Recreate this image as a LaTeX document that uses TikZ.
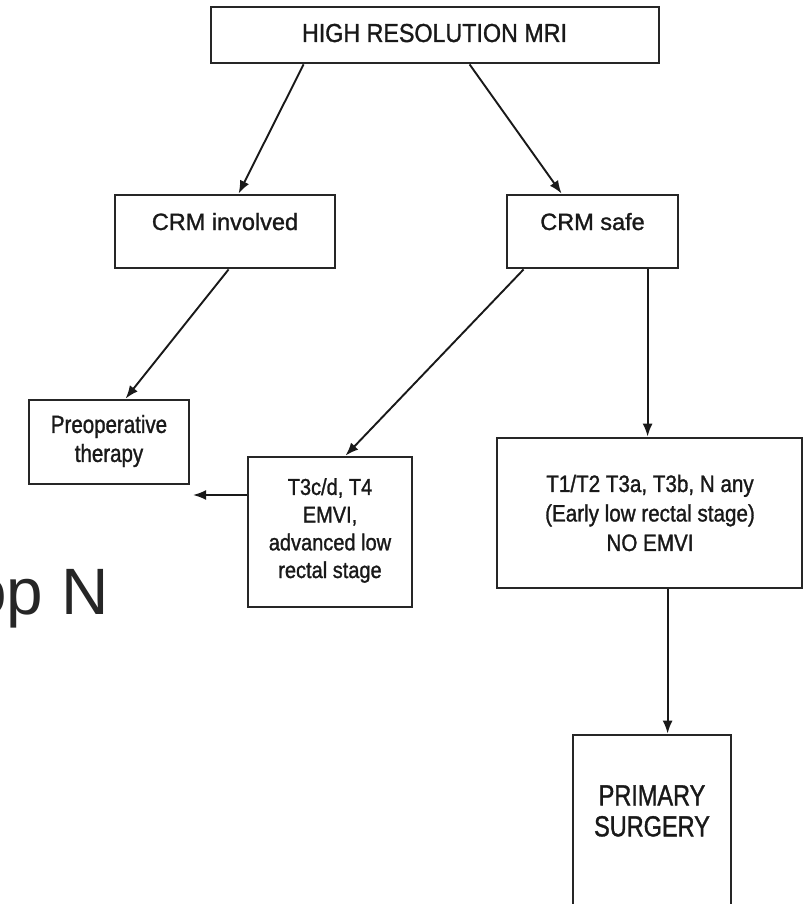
\documentclass[tikz,border=0pt]{standalone}
\usepackage{fontspec}
\setmainfont{Liberation Sans}
\newfontfamily\fN[FakeBold=1.2]{Liberation Sans}
\newfontfamily\fA[FakeStretch=0.895,FakeBold=1.2]{Liberation Sans}
\newfontfamily\fB[FakeStretch=0.87,FakeBold=1.2]{Liberation Sans}
\newfontfamily\fC[FakeStretch=0.83,FakeBold=1.2]{Liberation Sans}
\newfontfamily\fD[FakeStretch=0.81,FakeBold=1.2]{Liberation Sans}
\usetikzlibrary{arrows.meta}
\begin{document}
\begin{tikzpicture}[x=1pt,y=-1pt,
  box/.style={draw=black!85, line width=2.8pt, inner sep=0pt},
  conn/.style={draw=black!90, line width=1.9pt, -{Latex[length=13pt,width=10pt]}},
  lbl/.style={inner sep=0pt, align=center, text=black!90}]
\useasboundingbox (0,0) rectangle (803,904);
\clip (0,0) rectangle (803,904);
\fill[white] (0,0) rectangle (803,904);

% boxes
\node[box, minimum width=448pt, minimum height=56pt] (mri) at (435,35) {};
\node[box, minimum width=220pt, minimum height=73pt] (crmi) at (225,231.5) {};
\node[box, minimum width=171pt, minimum height=73pt] (crms) at (592.5,231.5) {};
\node[box, minimum width=160pt, minimum height=84pt] (preop) at (109,442) {};
\node[box, minimum width=164pt, minimum height=150pt] (t3c) at (330,532) {};
\node[box, minimum width=305pt, minimum height=150pt] (t12) at (649.5,513) {};
\node[box, minimum width=158pt, minimum height=265pt] (prim) at (652,867.5) {};

% texts
\node[lbl, font=\fA\fontsize{26}{31}\selectfont, anchor=base] (mriT) at (434.5,42) {HIGH RESOLUTION MRI};
\node[lbl, font=\fN\fontsize{23.5}{28}\selectfont, anchor=base] (crmiT) at (225,230) {CRM involved};
\node[lbl, font=\fN\fontsize{23.5}{28}\selectfont, anchor=base] (crmsT) at (592.5,230) {CRM safe};
\node[lbl, font=\fC\fontsize{24.7}{29}\selectfont] (preopT) at (109,441) {Preoperative\\therapy};
\node[lbl, font=\fB\fontsize{23}{27.7}\selectfont] (t3cT) at (330,530.5) {T3c/d, T4\\EMVI,\\advanced low\\rectal stage};
\node[lbl, font=\fB\fontsize{23.7}{29.5}\selectfont] (t12T) at (650,513) {T1/T2 T3a, T3b, N any\\(Early low rectal stage)\\NO EMVI};
\node[lbl, font=\fD\fontsize{29}{31}\selectfont] (primT) at (652,811) {PRIMARY\\SURGERY};

\node[anchor=base west, inner sep=0pt, text=black!85, font=\fontsize{65.6}{70}\selectfont] (opn) at (-30,614) {op N};

% connectors
\coordinate (free) at (193,495);
\draw[conn] ([xshift=94pt]mri.south west) -- ([xshift=125pt]crmi.north west);
\draw[conn] ([xshift=260pt]mri.south west) -- ([xshift=56pt]crms.north west);
\draw[conn] ([xshift=115pt]crmi.south west) -- ([xshift=98pt]preop.north west);
\draw[conn] ([xshift=18pt]crms.south west) -- ([xshift=99pt]t3c.north west);
\draw[conn] ([xshift=142pt]crms.south west) -- ([xshift=152pt]t12.north west);
\draw[conn] ([xshift=172pt]t12.south west) -- ([xshift=96pt]prim.north west);
\draw[conn] ([yshift=37pt]t3c.west) -- (free);
\end{tikzpicture}
\end{document}
